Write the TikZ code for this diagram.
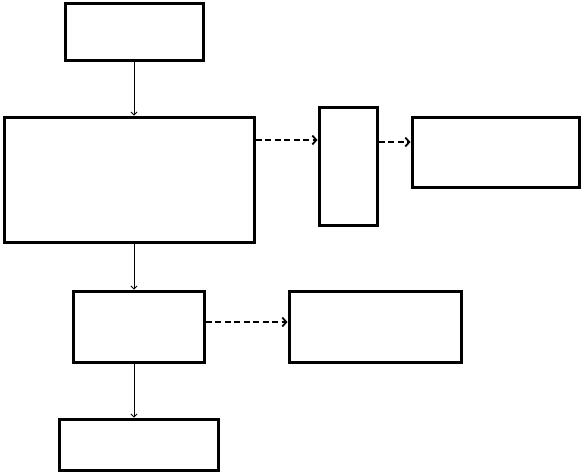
\documentclass[tikz,border=0pt]{standalone}
\usetikzlibrary{arrows.meta}
\begin{document}
\begin{tikzpicture}[x=1pt,y=-1pt,
  box/.style={draw,line width=3pt,inner sep=0pt,minimum width=#1},
  thinarrow/.style={line width=0.8pt,-{Straight Barb[length=3pt,width=6pt]}},
  dasharrow/.style={line width=2.5pt,dash pattern=on 6pt off 3.5pt,-{Straight Barb[length=4pt,width=9pt,line width=1.8pt]}}]
\useasboundingbox (0,0) rectangle (582,475);
\node[box=138pt,minimum height=57pt] (b1) at (134,31.5) {};
\node[box=250pt,minimum height=125pt] (b2) at (129,179.5) {};
\node[box=58pt,minimum height=118pt] (b3) at (348,166) {};
\node[box=167pt,minimum height=70pt] (b4) at (495.5,152) {};
\node[box=131pt,minimum height=71pt] (b5) at (138.5,326.5) {};
\node[box=172pt,minimum height=71pt] (b6) at (375,326.5) {};
\node[box=159pt,minimum height=51pt] (b7) at (138.5,444.5) {};
\coordinate (r1) at (0,140);
\coordinate (r2) at (0,142);
\coordinate (r3) at (0,322);
\draw[thinarrow] (b1.south) -- (b2.north -| b1.south);
\draw[thinarrow] (b2.south -| b1.south) -- (b5.north -| b1.south);
\draw[thinarrow] (b5.south -| b1.south) -- (b7.north -| b1.south);
\draw[dasharrow] (b2.east |- r1) -- (b3.west |- r1);
\draw[dasharrow] (b3.east |- r2) -- (b4.west |- r2);
\draw[dasharrow] (b5.east |- r3) -- (b6.west |- r3);
\end{tikzpicture}
\end{document}
